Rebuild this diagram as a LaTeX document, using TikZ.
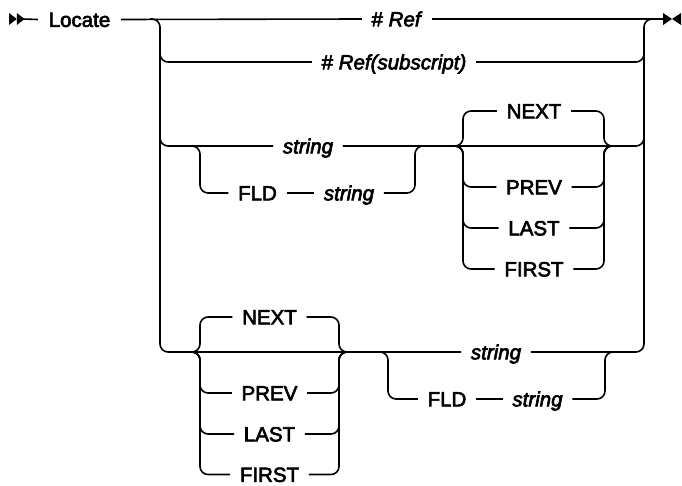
\documentclass[tikz,border=0pt]{standalone}
\usepackage{fontspec}
\setmainfont[FakeBold=3]{Liberation Sans}
\begin{document}
\begin{tikzpicture}[x=1pt,y=-1pt,line width=1.6pt,
  rr/.style={rounded corners=8pt},
  lbl/.style={inner xsep=9pt,inner ysep=0pt,text height=14.7pt,text depth=0pt,font=\fontsize{20.5}{24}\selectfont},
  var/.style={lbl,font=\fontsize{20.5}{24}\selectfont\itshape}]
\useasboundingbox (0,0) rectangle (682,485);

% start and end markers
\fill (9,13) -- (16.8,19) -- (9,25) -- cycle;
\fill (16.8,13) -- (24.6,19) -- (16.8,25) -- cycle;
\coordinate (st) at (23,19);
\fill (663,13) -- (672,19) -- (663,25) -- cycle;
\fill (681,13) -- (672,19) -- (681,25) -- cycle;
\coordinate (en) at (664,19);

% nodes
\node[lbl,inner xsep=10pt] (loc) at (79.5,19.5) {Locate};
\node[lbl] (ref1) at (397,19) {\#\ \textit{Ref}};
\node[lbl] (ref2) at (394,62) {\#\ \textit{Ref(subscript)}};
\node[var] (s1) at (308,146) {string};
\node[lbl] (fld1) at (257.5,193) {FLD};
\node[var] (s1b) at (349,193) {string};
\node[lbl] (nx1) at (534,111) {NEXT};
\node[lbl] (pv1) at (534,187) {PREV};
\node[lbl] (ls1) at (534,228) {LAST};
\node[lbl] (fs1) at (534,269) {FIRST};
\node[lbl] (nx2) at (269.5,317) {NEXT};
\node[lbl] (pv2) at (269.5,393) {PREV};
\node[lbl] (ls2) at (269.5,434) {LAST};
\node[lbl] (fs2) at (269.5,474.5) {FIRST};
\node[var] (s3) at (496,352) {string};
\node[lbl] (fld2) at (447,399) {FLD};
\node[var] (s3b) at (537.5,399) {string};

% rail coordinates
\coordinate (La) at (150,19);
\coordinate (Lb) at (160,352);
\coordinate (Lr2) at (160,40);
\coordinate (Lr3) at (160,120);
\coordinate (Rb) at (644,352);
\coordinate (Rt) at (644,19);
\coordinate (Rt2) at (652,19);
\coordinate (Rr2) at (644,40);
\coordinate (Rr3) at (644,146);
\coordinate (Rr3u) at (644,120);

% main line
\draw (st) -- (loc.west);
\draw (loc.east) -- (ref1.west);
\draw (ref1.east) -- (en);
% left rail and bottom main line
\draw[rr] (La) -| (Lb) -- (s3.west);
\draw[rr] (s3.east) -- (Rb) -- (Rt) -- (Rt2);
% row 2
\draw[rr] (Lr2) |- (ref2.west);
\draw[rr] (ref2.east) -| (Rr2);
% row 3
\draw[rr] (Lr3) |- (s1.west);
\draw[rr] (s1.east) -- (Rr3) -- (Rr3u);
% optional FLD group (top)
\coordinate (oa) at (192,146);
\coordinate (ob) at (415,146);
\coordinate (obr) at (423,146);
\draw[rr] (oa) -| (200,193) -- (fld1.west);
\draw (fld1.east) -- (s1b.west);
\draw[rr] (s1b.east) -| (ob) -- (obr);
% choice group (top)
\coordinate (ca) at (455,146);
\coordinate (cb) at (604,146);
\coordinate (cbr) at (612,146);
\foreach \n/\yy in {nx1/111,pv1/187,ls1/228,fs1/269}{
  \draw[rr] (ca) -| (463,\yy) -- (\n.west);
  \draw[rr] (\n.east) -| (cb) -- (cbr);
}
% choice group (bottom)
\coordinate (da) at (192,352);
\coordinate (db) at (339,352);
\coordinate (dbr) at (347,352);
\foreach \n/\yy in {nx2/317,pv2/393,ls2/434,fs2/474.5}{
  \draw[rr] (da) -| (200,\yy) -- (\n.west);
  \draw[rr] (\n.east) -| (db) -- (dbr);
}
% optional FLD group (bottom)
\coordinate (ea) at (380,352);
\coordinate (eb) at (605,352);
\coordinate (ebr) at (613,352);
\draw[rr] (ea) -| (388,399) -- (fld2.west);
\draw (fld2.east) -- (s3b.west);
\draw[rr] (s3b.east) -| (eb) -- (ebr);
\end{tikzpicture}
\end{document}
